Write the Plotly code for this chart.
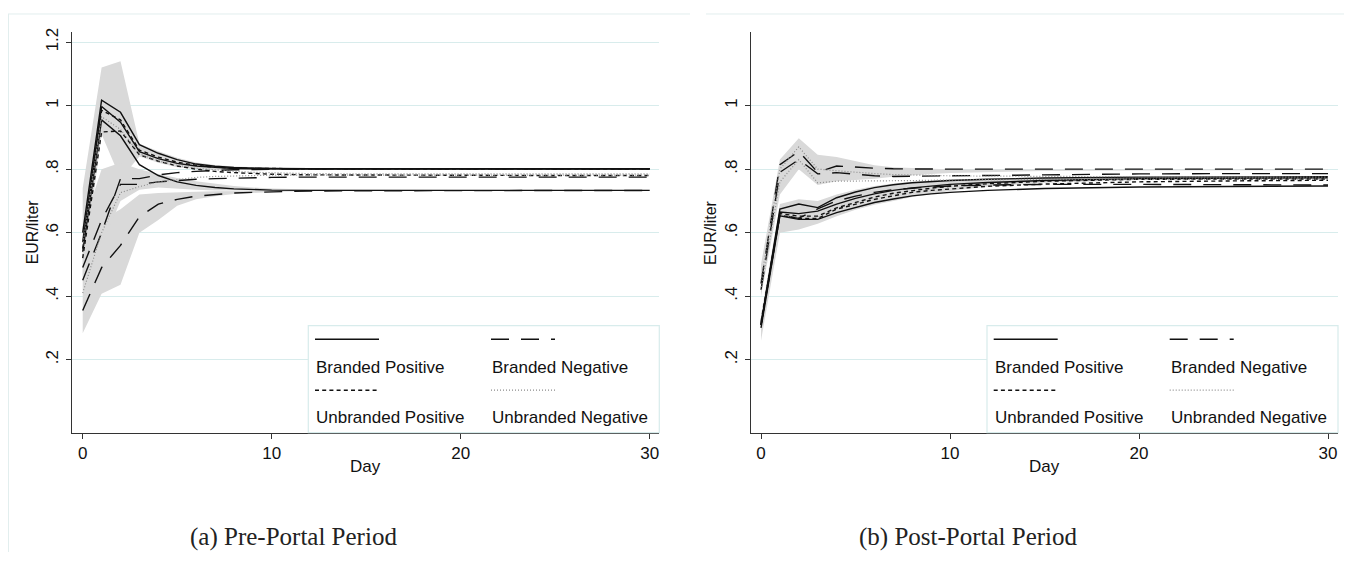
import plotly.graph_objects as go

# ---------------- data ----------------
DAYS = [0, 1, 2, 3, 4, 5, 6, 7, 8, 9, 10, 12, 15, 20, 25, 30]
SERIES_LABELS = ["Branded Positive", "Branded Negative", "Unbranded Positive", "Unbranded Negative"]
X_TICKS = [0, 10, 20, 30]
Y_TICKS_A = [0.2, 0.4, 0.6, 0.8, 1.0, 1.2]
Y_TICK_LABELS_A = [".2", ".4", ".6", ".8", "1", "1.2"]
Y_TICKS_B = [0.2, 0.4, 0.6, 0.8, 1.0]
Y_TICK_LABELS_B = [".2", ".4", ".6", ".8", "1"]
CAPTIONS = ["(a) Pre-Portal Period", "(b) Post-Portal Period"]
X_TITLE = "Day"
Y_TITLE = "EUR/liter"

# Panel (a): Pre-Portal Period
A_BP_1 = [0.60, 1.017, 0.979, 0.877, 0.850, 0.830, 0.816, 0.809, 0.805, 0.803, 0.802, 0.801, 0.801, 0.801, 0.801, 0.801]
A_BP_2 = [0.57, 0.997, 0.948, 0.855, 0.833, 0.818, 0.810, 0.805, 0.802, 0.801, 0.800, 0.800, 0.800, 0.800, 0.800, 0.800]
A_BP_3 = [0.54, 0.955, 0.905, 0.814, 0.780, 0.760, 0.749, 0.742, 0.738, 0.735, 0.734, 0.733, 0.733, 0.733, 0.733, 0.733]
A_UP_1 = [0.52, 0.917, 0.920, 0.845, 0.825, 0.810, 0.800, 0.793, 0.789, 0.786, 0.784, 0.782, 0.781, 0.780, 0.780, 0.780]
A_UP_2 = [0.55, 0.985, 0.955, 0.860, 0.838, 0.822, 0.812, 0.806, 0.803, 0.802, 0.801, 0.801, 0.801, 0.801, 0.801, 0.801]
A_BN_1 = [0.355, 0.490, 0.560, 0.650, 0.690, 0.705, 0.715, 0.721, 0.725, 0.727, 0.729, 0.731, 0.732, 0.733, 0.733, 0.733]
A_BN_2 = [0.45, 0.600, 0.770, 0.770, 0.782, 0.789, 0.793, 0.796, 0.798, 0.799, 0.800, 0.801, 0.801, 0.801, 0.801, 0.801]
A_BN_3 = [0.49, 0.640, 0.752, 0.752, 0.760, 0.765, 0.768, 0.770, 0.772, 0.773, 0.774, 0.775, 0.775, 0.775, 0.775, 0.775]
A_UN_1 = [0.41, 0.600, 0.726, 0.745, 0.760, 0.768, 0.774, 0.777, 0.779, 0.780, 0.781, 0.781, 0.781, 0.781, 0.781, 0.781]
A_UN_2 = [0.56, 0.965, 0.925, 0.848, 0.826, 0.812, 0.803, 0.797, 0.793, 0.790, 0.788, 0.786, 0.785, 0.785, 0.785, 0.785]

A_BAND1_HI = [0.74, 1.12, 1.14, 0.880, 0.856, 0.836, 0.821, 0.813, 0.808, 0.805, 0.804, 0.803, 0.802, 0.802, 0.802, 0.802]
A_BAND1_LO = [0.46, 0.91, 0.77, 0.840, 0.820, 0.806, 0.800, 0.797, 0.796, 0.796, 0.797, 0.798, 0.799, 0.800, 0.800, 0.800]
A_BAND2_HI = [0.42, 0.64, 0.674, 0.720, 0.725, 0.728, 0.729, 0.730, 0.731, 0.731, 0.732, 0.733, 0.733, 0.733, 0.733, 0.733]
A_BAND2_LO = [0.283, 0.408, 0.436, 0.600, 0.640, 0.685, 0.705, 0.715, 0.722, 0.726, 0.728, 0.731, 0.732, 0.733, 0.733, 0.733]
A_BAND3_HI = [0.62, 0.80, 0.82, 0.800, 0.785, 0.772, 0.762, 0.754, 0.747, 0.742, 0.739, 0.736, 0.735, 0.734, 0.734, 0.734]
A_BAND3_LO = [0.42, 0.56, 0.70, 0.735, 0.742, 0.738, 0.735, 0.733, 0.732, 0.732, 0.732, 0.732, 0.732, 0.732, 0.732, 0.732]

# Panel (b): Post-Portal Period
B_BP_1 = [0.31, 0.674, 0.690, 0.679, 0.710, 0.728, 0.742, 0.751, 0.757, 0.761, 0.764, 0.768, 0.772, 0.775, 0.776, 0.776]
B_BP_2 = [0.30, 0.653, 0.642, 0.642, 0.663, 0.680, 0.695, 0.706, 0.716, 0.722, 0.727, 0.733, 0.739, 0.744, 0.746, 0.747]
B_BP_3 = [0.31, 0.665, 0.660, 0.668, 0.690, 0.708, 0.722, 0.733, 0.741, 0.747, 0.752, 0.758, 0.764, 0.770, 0.772, 0.773]
B_UP_1 = [0.31, 0.655, 0.645, 0.645, 0.674, 0.690, 0.705, 0.716, 0.727, 0.733, 0.738, 0.746, 0.753, 0.760, 0.763, 0.765]
B_UP_2 = [0.32, 0.660, 0.652, 0.652, 0.678, 0.696, 0.712, 0.724, 0.733, 0.740, 0.746, 0.754, 0.762, 0.768, 0.769, 0.769]
B_BN_1 = [0.44, 0.814, 0.856, 0.790, 0.810, 0.806, 0.803, 0.801, 0.800, 0.800, 0.800, 0.800, 0.800, 0.800, 0.800, 0.800]
B_BN_2 = [0.42, 0.790, 0.830, 0.785, 0.789, 0.783, 0.779, 0.777, 0.777, 0.778, 0.779, 0.780, 0.782, 0.785, 0.786, 0.786]
B_BN_3 = [0.31, 0.655, 0.645, 0.675, 0.700, 0.715, 0.727, 0.735, 0.740, 0.744, 0.747, 0.750, 0.752, 0.752, 0.751, 0.750]
B_UN_1 = [0.42, 0.760, 0.830, 0.757, 0.762, 0.762, 0.762, 0.763, 0.764, 0.765, 0.766, 0.767, 0.768, 0.769, 0.769, 0.769]
B_UN_2 = [0.45, 0.800, 0.870, 0.800, 0.795, 0.790, 0.786, 0.783, 0.781, 0.780, 0.779, 0.778, 0.777, 0.776, 0.775, 0.775]

B_BAND1_HI = [0.50, 0.83, 0.897, 0.845, 0.838, 0.825, 0.812, 0.806, 0.803, 0.801, 0.800, 0.800, 0.800, 0.800, 0.800, 0.800]
B_BAND1_LO = [0.40, 0.72, 0.800, 0.750, 0.762, 0.766, 0.770, 0.776, 0.781, 0.785, 0.788, 0.791, 0.794, 0.796, 0.797, 0.797]
B_BAND2_HI = [0.34, 0.69, 0.705, 0.700, 0.720, 0.735, 0.747, 0.755, 0.760, 0.764, 0.767, 0.770, 0.773, 0.776, 0.777, 0.777]
B_BAND2_LO = [0.26, 0.60, 0.610, 0.628, 0.652, 0.672, 0.688, 0.700, 0.712, 0.722, 0.731, 0.745, 0.757, 0.766, 0.769, 0.770]

# ---------------- styling ----------------
OFF = 8                     # browser body margin
W, H = 1336, 545            # figure size (page minus body margins)
STYLE = {
    "Branded Positive": dict(color="#111111", width=1.4, dash="solid"),
    "Branded Negative": dict(color="#111111", width=1.4, dash="18px,12px"),
    "Unbranded Positive": dict(color="#111111", width=1.4, dash="4px,3.2px"),
    "Unbranded Negative": dict(color="#8c8c8c", width=1.2, dash="1px,2px"),
}
BAND_COLOR = "#d9d9d9"
GRID = "#d8ecec"
AXIS = "#333333"
FONT = "Liberation Sans, Arial, sans-serif"

panels = [
    dict(
        lines=[(SERIES_LABELS[0], A_BP_1), (SERIES_LABELS[0], A_BP_2), (SERIES_LABELS[0], A_BP_3),
               (SERIES_LABELS[2], A_UP_1), (SERIES_LABELS[2], A_UP_2),
               (SERIES_LABELS[1], A_BN_1), (SERIES_LABELS[1], A_BN_2), (SERIES_LABELS[1], A_BN_3),
               (SERIES_LABELS[3], A_UN_1), (SERIES_LABELS[3], A_UN_2)],
        bands=[(A_BAND1_HI, A_BAND1_LO), (A_BAND2_HI, A_BAND2_LO), (A_BAND3_HI, A_BAND3_LO)],
        yticks=Y_TICKS_A, yticklabels=Y_TICK_LABELS_A,
        px_left=72.0, px_right=659.3, px_zero=82.7,
    ),
    dict(
        lines=[(SERIES_LABELS[0], B_BP_1), (SERIES_LABELS[0], B_BP_2), (SERIES_LABELS[0], B_BP_3),
               (SERIES_LABELS[2], B_UP_1), (SERIES_LABELS[2], B_UP_2),
               (SERIES_LABELS[1], B_BN_1), (SERIES_LABELS[1], B_BN_2), (SERIES_LABELS[1], B_BN_3),
               (SERIES_LABELS[3], B_UN_1), (SERIES_LABELS[3], B_UN_2)],
        bands=[(B_BAND1_HI, B_BAND1_LO), (B_BAND2_HI, B_BAND2_LO)],
        yticks=Y_TICKS_B, yticklabels=Y_TICK_LABELS_B,
        px_left=750.7, px_right=1337.7, px_zero=761.0,
    ),
]

PX_TOP, PX_BOTTOM = 28.0, 432.0
PX_PER_DAY = 18.9
Y_RANGE = [-0.0303, 1.2322]


def px_x(p):
    return (p - OFF) / W


def px_y(p):
    return 1 - (p - OFF) / H


fig = go.Figure()
shapes = []
annotations = []

for i, pn in enumerate(panels):
    xa = "x" if i == 0 else "x2"
    ya = "y" if i == 0 else "y2"
    for hi, lo in pn["bands"]:
        fig.add_trace(go.Scatter(
            x=DAYS + DAYS[::-1], y=hi + lo[::-1], fill="toself", fillcolor=BAND_COLOR,
            mode="lines", line=dict(width=0, color=BAND_COLOR), hoverinfo="skip",
            showlegend=False, xaxis=xa, yaxis=ya))
    for key, vals in pn["lines"]:
        st = STYLE[key]
        fig.add_trace(go.Scatter(
            x=DAYS, y=vals, mode="lines", line=dict(color=st["color"], width=st["width"], dash=st["dash"]),
            hoverinfo="skip", showlegend=False, xaxis=xa, yaxis=ya))

    xr = [(pn["px_left"] - pn["px_zero"]) / PX_PER_DAY, (pn["px_right"] - pn["px_zero"]) / PX_PER_DAY]
    axis_common = dict(showline=True, linecolor=AXIS, linewidth=1.3, ticks="outside", ticklen=5,
                       tickcolor=AXIS, tickwidth=1.2, zeroline=False,
                       tickfont=dict(family=FONT, size=17, color="#111111"))
    xkey = "xaxis" if i == 0 else "xaxis2"
    ykey = "yaxis" if i == 0 else "yaxis2"
    fig.layout[xkey] = dict(domain=[px_x(pn["px_left"]), px_x(pn["px_right"])], range=xr,
                            tickvals=X_TICKS, ticktext=[str(t) for t in X_TICKS], showgrid=False,
                            anchor=ya, **axis_common)
    fig.layout[ykey] = dict(domain=[px_y(PX_BOTTOM), px_y(PX_TOP)], range=Y_RANGE,
                            tickvals=pn["yticks"], ticktext=pn["yticklabels"], tickangle=-90,
                            ticklabelstandoff=1,
                            showgrid=True, gridcolor=GRID, gridwidth=1, anchor=xa, **axis_common)

    # axis titles
    annotations.append(dict(text=Y_TITLE, x=px_x(pn["px_left"] - 40), y=px_y((PX_TOP + PX_BOTTOM) / 2),
                            xref="paper", yref="paper", textangle=-90, showarrow=False,
                            font=dict(family=FONT, size=16, color="#111111"),
                            xanchor="center", yanchor="middle"))
    annotations.append(dict(text=X_TITLE, x=px_x((pn["px_left"] + pn["px_right"]) / 2), y=px_y(466),
                            xref="paper", yref="paper", showarrow=False,
                            font=dict(family=FONT, size=17, color="#111111"),
                            xanchor="center", yanchor="middle"))

    # legend box (Stata style: key above label, two columns)
    off = pn["px_left"] - 72.0
    bx0, bx1, by0, by1 = 308.3 + off, 659.3 + off, 324.0, 431.7
    shapes.append(dict(type="rect", xref="paper", yref="paper", x0=px_x(bx0), x1=px_x(bx1),
                       y0=px_y(by1), y1=px_y(by0), fillcolor="white", line=dict(color="#d8ecec", width=1.2)))
    cols = [315.0 + off, 491.0 + off]
    rows = [(337.7, 366.0), (389.0, 416.7)]
    for k, lab in enumerate(SERIES_LABELS):
        c = cols[k % 2]
        ry, ty = rows[k // 2]
        st = STYLE[lab]
        shapes.append(dict(type="line", xref="paper", yref="paper", x0=px_x(c), x1=px_x(c + 64),
                           y0=px_y(ry), y1=px_y(ry),
                           line=dict(color=st["color"], width=st["width"], dash=st["dash"])))
        annotations.append(dict(text=lab, x=px_x(c - 1), y=px_y(ty), xref="paper", yref="paper",
                                showarrow=False, xanchor="left", yanchor="middle",
                                font=dict(family=FONT, size=17, color="#111111")))

# graph region outlines
shapes.append(dict(type="line", xref="paper", yref="paper", x0=px_x(8), x1=px_x(690), y0=px_y(10), y1=px_y(10),
                   line=dict(color="#e2eeee", width=1)))
shapes.append(dict(type="line", xref="paper", yref="paper", x0=px_x(8.5), x1=px_x(8.5), y0=px_y(10), y1=px_y(552),
                   line=dict(color="#e2eeee", width=1)))
shapes.append(dict(type="line", xref="paper", yref="paper", x0=px_x(706), x1=px_x(1344), y0=px_y(10), y1=px_y(10),
                   line=dict(color="#e2eeee", width=1)))

# captions
for cx, cap in zip([293, 968], CAPTIONS):
    annotations.append(dict(text=cap, x=px_x(cx), y=px_y(537), xref="paper", yref="paper", showarrow=False,
                            xanchor="center", yanchor="middle", borderpad=0,
                            font=dict(family="Liberation Serif, serif", size=25, color="#222222")))

fig.update_layout(width=W, height=H, autosize=False, margin=dict(l=0, r=0, t=0, b=0),
                  paper_bgcolor="white", plot_bgcolor="white", showlegend=False,
                  shapes=shapes, annotations=annotations, font=dict(family=FONT, size=16))

fig.write_html("out.html")
